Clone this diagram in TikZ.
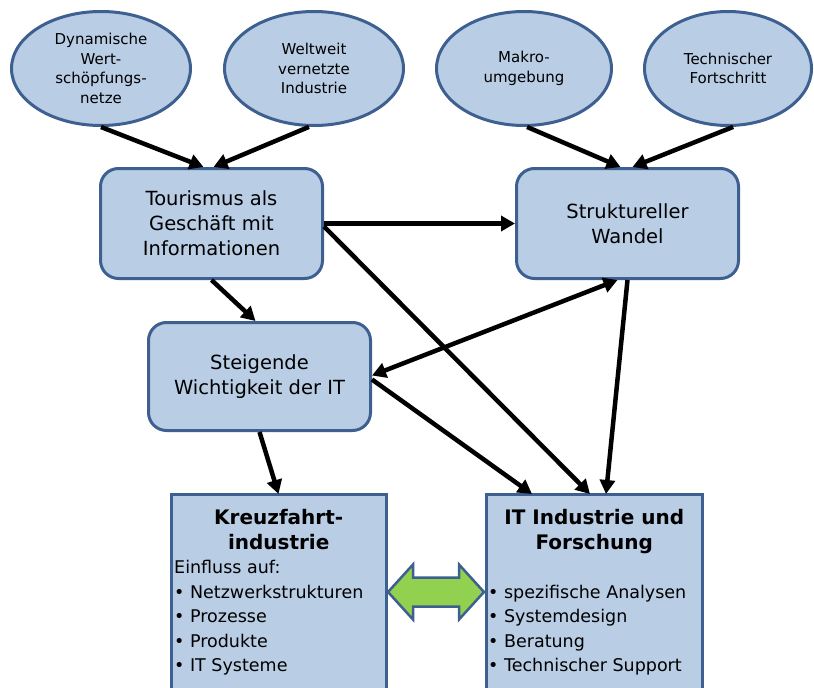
\documentclass[tikz,border=0pt]{standalone}
\usepackage{fontspec}
\setmainfont{DejaVu Sans}
\usetikzlibrary{arrows.meta,shapes.geometric}

\definecolor{boxfill}{HTML}{B9CDE5}
\definecolor{boxline}{HTML}{3D6090}
\definecolor{linkgreen}{HTML}{92D050}

\tikzset{
  factor/.style={ellipse, draw=boxline, fill=boxfill, line width=3pt,
    inner sep=0pt, align=center, font=\fontsize{15}{19.7}\selectfont},
  driver/.style={rectangle, rounded corners=18pt, draw=boxline, fill=boxfill,
    line width=3pt, minimum width=222pt, align=center,
    font=\fontsize{19.5}{25}\selectfont},
  sector/.style={rectangle, draw=boxline, fill=boxfill, line width=3pt,
    outer sep=0pt, anchor=north west, minimum height=240pt},
  sectortext/.style={anchor=north west, inner sep=0pt},
  flow/.style={line width=4.5pt, -{Triangle[length=14pt,width=15pt]}},
  bothflow/.style={line width=4.5pt,
    {Triangle[length=14pt,width=15pt]}-{Triangle[length=14pt,width=15pt]}},
  linkarrow/.style={draw=boxline, fill=linkgreen, line width=2.5pt, line join=miter},
}

\begin{document}
\begin{tikzpicture}[x=1pt, y=-1pt]
  \clip (0,0) rectangle (814,688);

  % driving factors
  \node[factor, minimum width=179pt, minimum height=114pt] (e1) at (101,68.5)
    {Dynamische\\Wert-\\schöpfungs-\\netze};
  \node[factor, minimum width=179pt, minimum height=114pt] (e2) at (314,68.5)
    {Weltweit\\vernetzte\\Industrie};
  \node[factor, minimum width=175pt, minimum height=114pt] (e3) at (524,68.5)
    {Makro-\\umgebung};
  \node[factor, minimum width=167pt, minimum height=114pt] (e4) at (728,68.5)
    {Technischer\\Fortschritt};

  % intermediate effects
  \node[driver, minimum height=110pt] (tour) at (211.5,223.5)
    {Tourismus als\\Geschäft mit\\Informationen};
  \node[driver, minimum height=110pt] (struk) at (627.5,223.5)
    {Struktureller\\Wandel};
  \node[driver, minimum height=108pt] (steig) at (259.5,376.5)
    {Steigende\\Wichtigkeit der IT};

  % sectors at the bottom
  \node[sector, minimum width=215pt] (kreuz) at (171,494) {};
  \node[sector, minimum width=216pt] (it) at (486,494) {};

  \node[sectortext] (kreuztext) at ([xshift=3pt,yshift=-15pt]kreuz.north west)
    {\begin{minipage}[t]{209pt}
      \centering\fontsize{20}{25}\selectfont\bfseries Kreuzfahrt-\\industrie\par
      \raggedright\fontsize{17.5}{24.5}\selectfont\mdseries
      Einfluss auf:\\• Netzwerkstrukturen\\• Prozesse\\• Produkte\\• IT Systeme
    \end{minipage}};
  \node[sectortext] (ittext) at ([xshift=2pt,yshift=-15pt]it.north west)
    {\begin{minipage}[t]{212pt}
      \centering\fontsize{20}{25}\selectfont\bfseries IT Industrie und\\Forschung\par
      \raggedright\fontsize{17.5}{24.5}\selectfont\mdseries
      \mbox{}\\• spezifische Analysen\\• Systemdesign\\• Beratung\\• Technischer Support
    \end{minipage}};

  % influences
  \draw[flow] (e1.south) -- ([xshift=-8pt]tour.north);
  \draw[flow] (e2.265) -- ([xshift=2pt]tour.north);
  \draw[flow] (e3.273) -- ([xshift=-7pt]struk.north);
  \draw[flow] (e4.275) -- ([xshift=5pt]struk.north);

  \draw[flow] (tour.east) -- (struk.west);
  \draw[flow] ([yshift=-3pt]tour.east) -- ([xshift=-4pt]it.north);
  \draw[flow] (tour.south) -- ([xshift=-4pt]steig.north);
  \draw[bothflow] ([yshift=1pt]steig.east) -- ([xshift=-10pt]struk.south);
  \draw[flow] ([yshift=-3pt]steig.east) -- ([xshift=-62pt]it.north);
  \draw[flow] (struk.south) -- ([xshift=12pt]it.north);
  \draw[flow] (steig.south) -- (kreuz.north);

  % exchange between the two sectors
  \path[linkarrow] (388,592) -- (413,564.5) -- (413,577.5) -- (459,577.5)
    -- (459,564.5) -- (484,592) -- (459,619.5) -- (459,606.5) -- (413,606.5)
    -- (413,619.5) -- cycle;
\end{tikzpicture}
\end{document}
